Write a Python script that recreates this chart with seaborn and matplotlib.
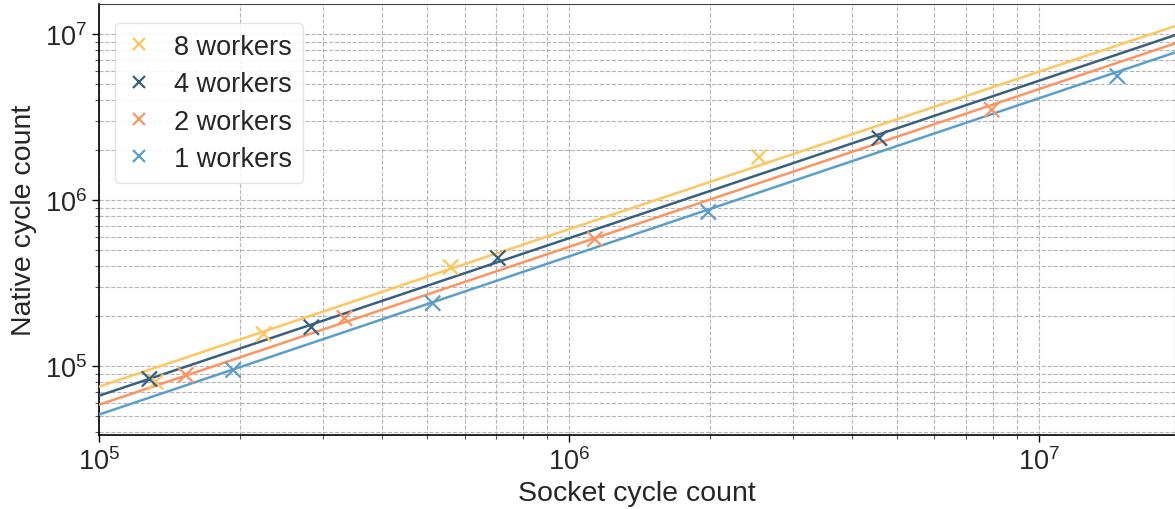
import numpy as np
import pandas as pd
import matplotlib
matplotlib.use("Agg")
import matplotlib.pyplot as plt
import seaborn as sns

# ---- data ----
series_names = ["8 workers", "4 workers", "2 workers", "1 workers"]
colors = ["#FFC65C", "#37617F", "#FC9462", "#5A9FCB"]

socket_8 = [1.32e5, 2.24e5, 5.60e5, 2.54e6]
native_8 = [8.05e4, 1.565e5, 3.96e5, 1.82e6]
socket_4 = [1.28e5, 2.83e5, 7.06e5, 4.58e6]
native_4 = [8.39e4, 1.72e5, 4.49e5, 2.37e6]
socket_2 = [1.53e5, 3.33e5, 1.136e6, 7.94e6]
native_2 = [8.86e4, 1.95e5, 5.84e5, 3.51e6]
socket_1 = [1.93e5, 5.13e5, 1.98e6, 1.47e7]
native_1 = [9.5e4, 2.40e5, 8.5e5, 5.6e6]

fit_x = [1e5, 1.95e7]
fit_8 = [7.54e4, 1.12e7]
fit_4 = [6.65e4, 9.88e6]
fit_2 = [5.87e4, 8.81e6]
fit_1 = [5.12e4, 7.77e6]

xlim = (1e5, 1.95e7)
ylim = (3.84e4, 1.52e7)

# ---- build tables ----
pts = pd.concat([
    pd.DataFrame({"socket": s, "native": n, "series": name})
    for name, s, n in zip(series_names,
                          [socket_8, socket_4, socket_2, socket_1],
                          [native_8, native_4, native_2, native_1])
], ignore_index=True)
fits = pd.concat([
    pd.DataFrame({"socket": fit_x, "native": f, "series": name})
    for name, f in zip(series_names, [fit_8, fit_4, fit_2, fit_1])
], ignore_index=True)

sns.set_style("ticks")
plt.rcParams["font.family"] = ["Liberation Sans", "DejaVu Sans"]
plt.rcParams["mathtext.fontset"] = "custom"
plt.rcParams["mathtext.rm"] = "Liberation Sans"
plt.rcParams["mathtext.it"] = "Liberation Sans:italic"
plt.rcParams["mathtext.bf"] = "Liberation Sans:bold"

fig = plt.figure(figsize=(11.75, 5.10), dpi=100)
ax = fig.add_axes([0.0843, 0.1445, 0.9157, 0.8455])

palette = dict(zip(series_names, colors))
sns.lineplot(data=fits, x="socket", y="native", hue="series",
             hue_order=series_names, palette=palette, legend=False,
             linewidth=1.8, ax=ax, zorder=3)
sns.scatterplot(data=pts, x="socket", y="native", hue="series",
                hue_order=series_names, palette=palette, marker="x",
                s=120, linewidth=1.6, ax=ax, zorder=4)

ax.set_xscale("log")
ax.set_yscale("log")
ax.set_xlim(*xlim)
ax.set_ylim(*ylim)

ax.grid(True, which="both", linestyle="--", color="#b5b5b5", linewidth=0.8)
ax.set_axisbelow(True)

ax.set_xlabel("Socket cycle count", fontsize=20.5, labelpad=4)
ax.set_ylabel("Native cycle count", fontsize=20.5, labelpad=6)
ax.tick_params(axis="both", which="major", labelsize=19.5, length=5, width=1, color="black")
ax.tick_params(axis="both", which="minor", length=3, width=0.8, color="#555555")

for side in ["left", "bottom"]:
    ax.spines[side].set_color("black")
    ax.spines[side].set_linewidth(1.2)
ax.spines["top"].set_color("#444444")
ax.spines["right"].set_color("#444444")

handles, labels = ax.get_legend_handles_labels()
ax.legend(handles, labels, loc="upper left", fontsize=19.5, frameon=True,
          framealpha=0.85, edgecolor="#dddddd", handlelength=1.0,
          handletextpad=0.8, borderpad=0.4, labelspacing=0.42,
          markerscale=0.75, borderaxespad=0.3,
          bbox_to_anchor=(0.007, 0.975))

fig.savefig("out.png", dpi=100)
